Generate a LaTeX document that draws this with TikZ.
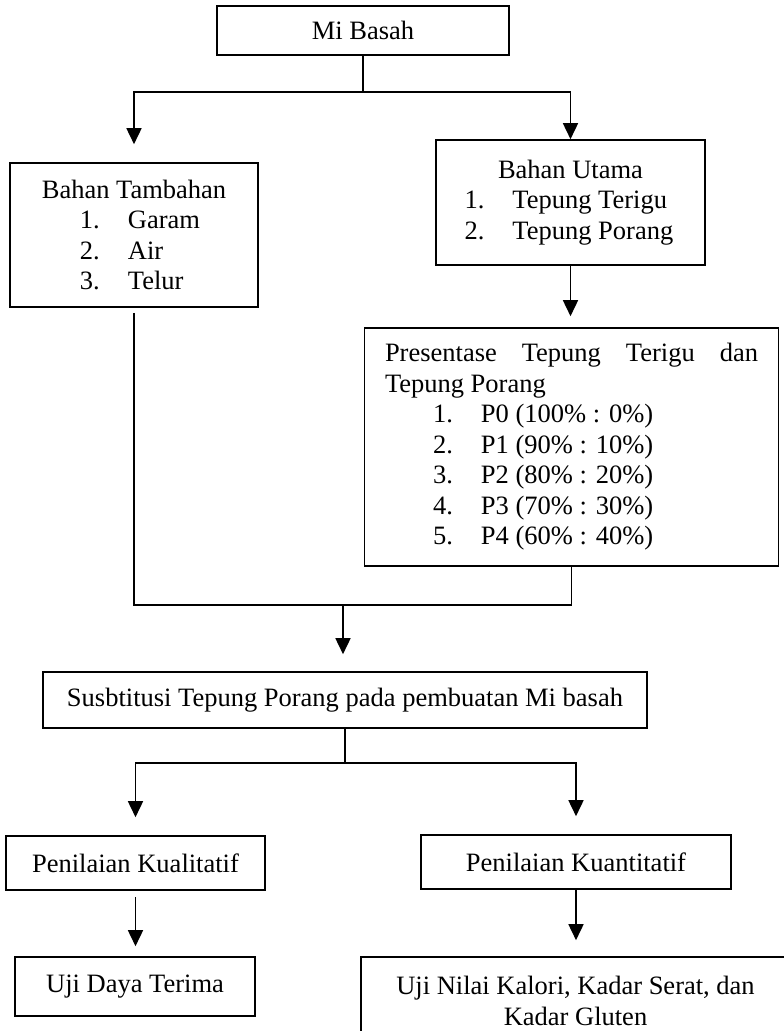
\documentclass[tikz,border=0pt]{standalone}
\usepackage{fontspec}
\setmainfont{Liberation Serif}
\usetikzlibrary{arrows.meta}

\tikzset{
  box/.style={draw, line width=1.6pt, inner sep=0pt, align=center,
    font=\fontsize{26.5}{30.5}\selectfont},
  arr/.style={line width=1.6pt, -{Triangle[length=16pt,width=15pt]}},
  ln/.style={line width=1.6pt}
}
\newcommand{\itm}[2]{\makebox[48pt][l]{#1}#2}

\begin{document}
\begin{tikzpicture}[x=1pt,y=-1pt]
            \useasboundingbox (0,0) rectangle (784,1031);
            \clip (0,0) rectangle (784,1031);
            \node[box,minimum width=292pt,minimum height=49pt] at (363,30.5) (mb) {Mi Basah};
            \node[box,minimum width=248pt,minimum height=144pt] at (134,235) (bt) {Bahan Tambahan\\
                \makebox[108pt][l]{\itm{1.}{Garam}}\\
                \makebox[108pt][l]{\itm{2.}{Air}}\\
                \makebox[108pt][l]{\itm{3.}{Telur}}};
            \node[box,minimum width=269pt,minimum height=125pt] at (570.5,202.5) (bu) {Bahan Utama\\
                \makebox[212pt][l]{\itm{1.}{Tepung Terigu}}\\
                \makebox[212pt][l]{\itm{2.}{Tepung Porang}}};
            \node[box,minimum width=414pt,minimum height=238pt,text width=373pt,align=justify] at (571.5,447) (pr) {Presentase Tepung Terigu dan\linebreak Tepung Porang\\
                \hspace*{48pt}\itm{1.}{P0 (100\% : 0\%)}\\
                \hspace*{48pt}\itm{2.}{P1 (90\% : 10\%)}\\
                \hspace*{48pt}\itm{3.}{P2 (80\% : 20\%)}\\
                \hspace*{48pt}\itm{4.}{P3 (70\% : 30\%)}\\
                \hspace*{48pt}\itm{5.}{P4 (60\% : 40\%)}};
            \node[box,minimum width=604pt,minimum height=56pt] at (345,700) (su) {Susbtitusi Tepung Porang pada pembuatan Mi basah};
            \node[box,minimum width=259pt,minimum height=54pt] at (135.5,863) (kl) {Penilaian Kualitatif};
            \node[box,minimum width=310pt,minimum height=54pt] at (576,862) (kn) {Penilaian Kuantitatif};
            \node[box,minimum width=240pt,minimum height=59pt] at (135,986.5) (ud) {Uji Daya Terima};
            \node[box,minimum width=429pt,minimum height=88pt] at (575.5,1001) (un) {Uji Nilai Kalori, Kadar Serat, dan\\Kadar Gluten};
            \coordinate (j1) at (363,92);
            \coordinate (j2) at (343,605);
            \coordinate (j3) at (345,763);
            \draw[ln] (mb.south) -- (j1);
            \draw[arr,shorten >=18pt] (j1) -| (bt.north);
            \draw[arr] (j1) -| (bu.north);
            \draw[arr,shorten >=11pt] (bu.south) -- (bu.south |- pr.north);
            \draw[ln,shorten <=5pt] (bt.south) |- (pr.south |- j2) -- (pr.south);
            \draw[arr,shorten >=17pt] (j2) -- (j2 |- su.north);
            \draw[ln] (su.south) -- (j3);
            \draw[arr,shorten >=18pt] (j3) -| (kl.north);
            \draw[arr,shorten >=18pt] (j3) -| (kn.north);
            \draw[arr,shorten <=6pt,shorten >=10pt] (kl.south) -- (kl.south |- ud.north);
            \draw[arr,shorten >=16pt] (kn.south) -- (kn.south |- un.north);
        \end{tikzpicture}
\end{document}
